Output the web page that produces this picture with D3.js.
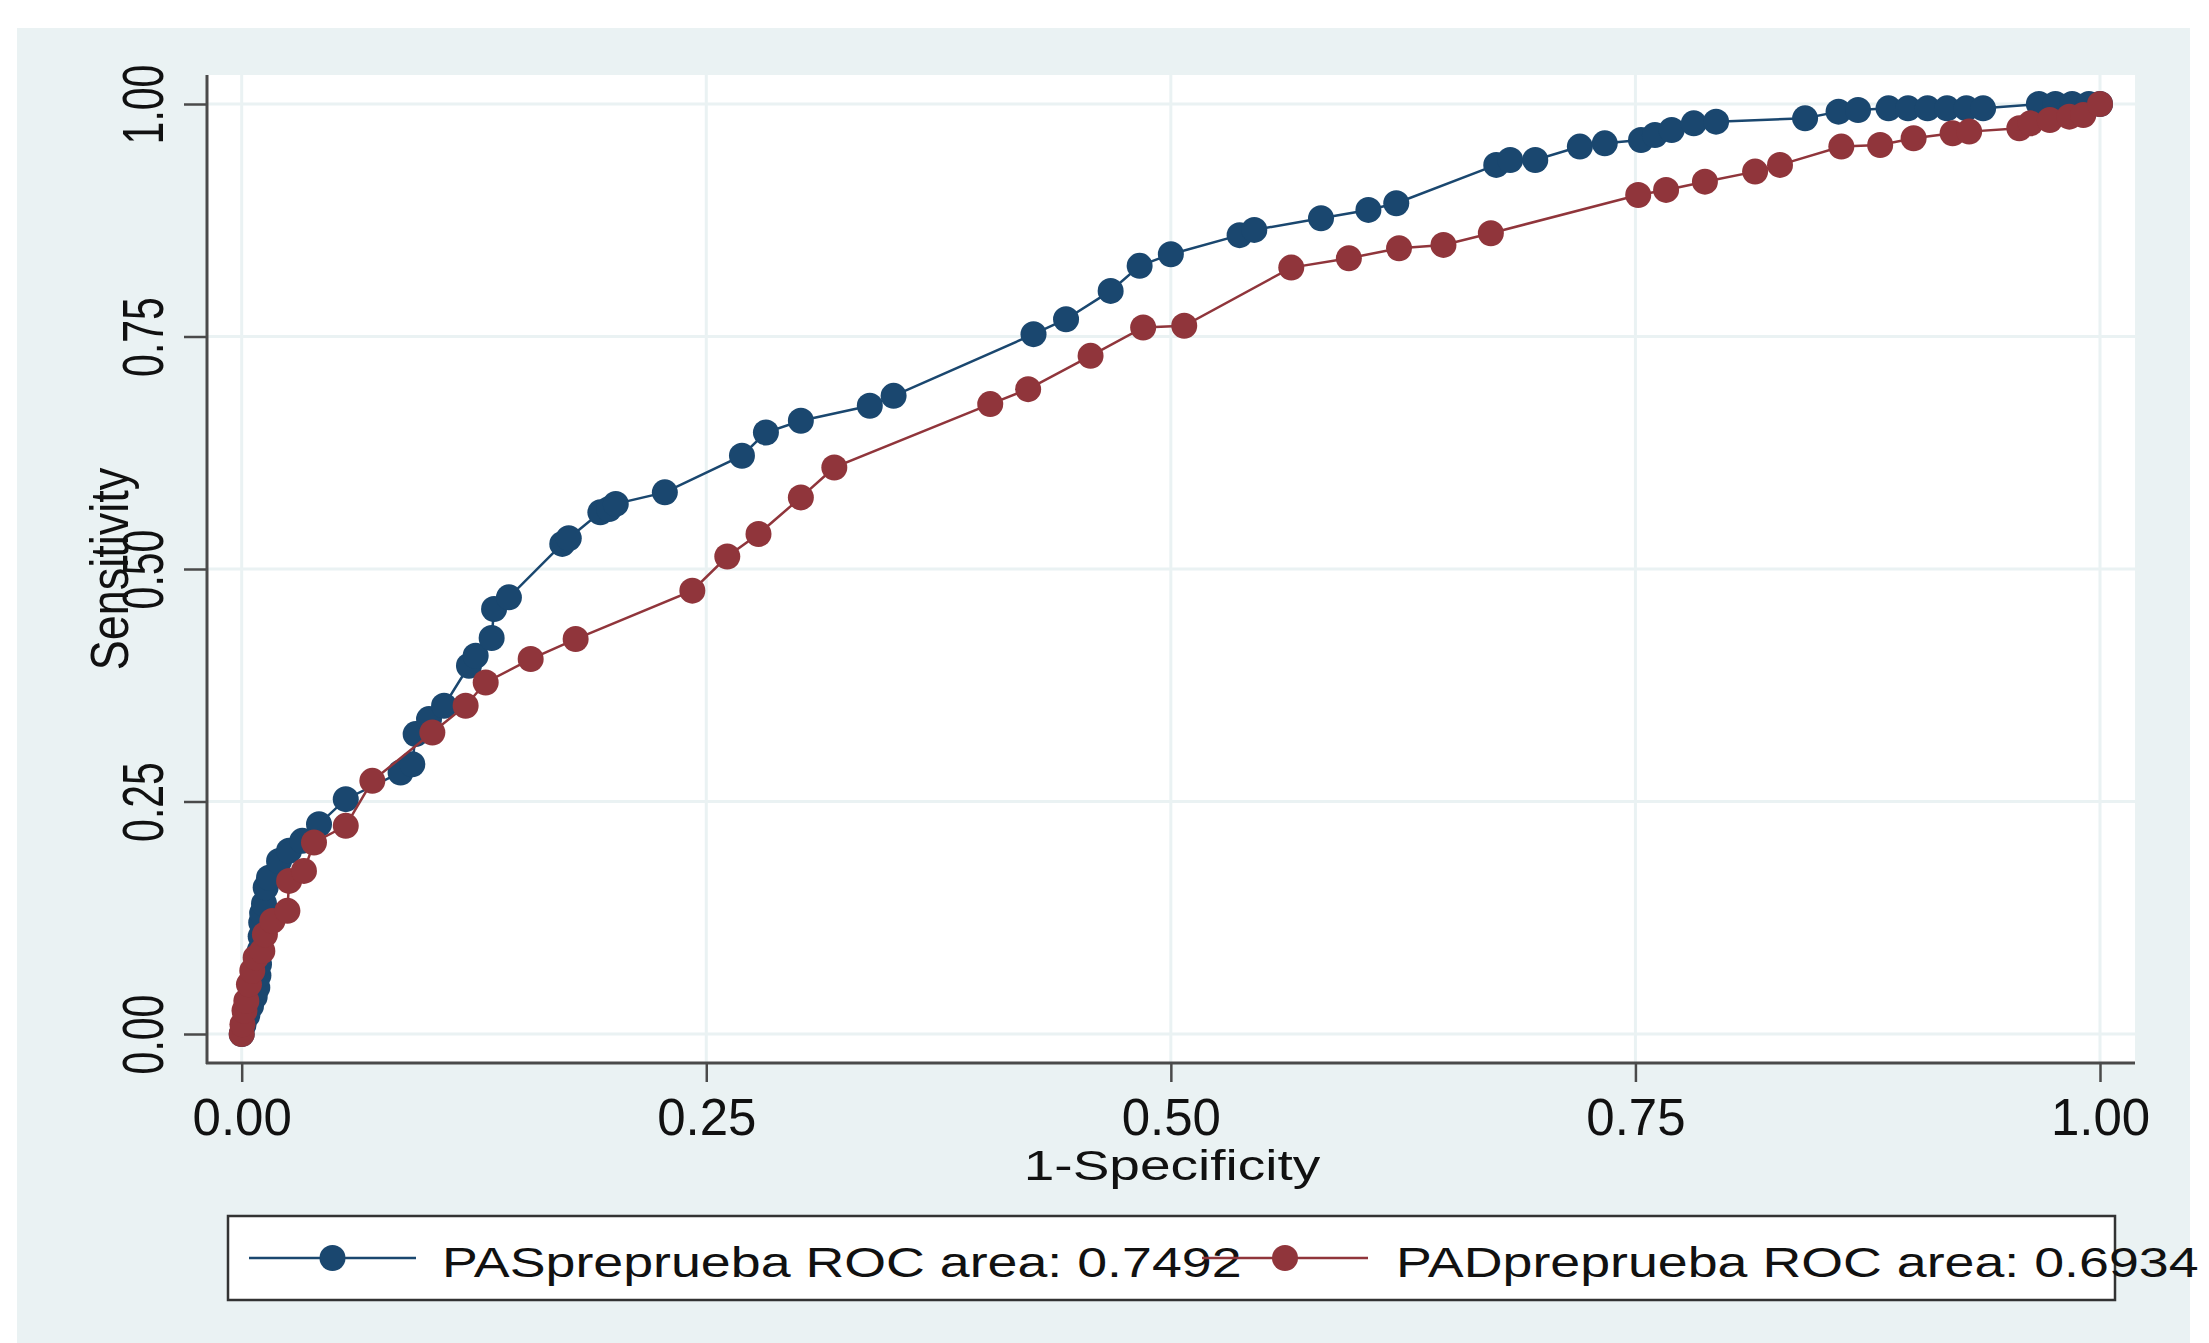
<!DOCTYPE html>
<html>
<head>
<meta charset="utf-8">
<script src="https://cdn.jsdelivr.net/npm/d3@7"></script>
<style>
  html, body { margin: 0; padding: 0; background: #ffffff; }
  svg { display: block; }
  text { font-family: "Liberation Sans", Arial, sans-serif; fill: #111; }
</style>
</head>
<body>
<div id="chart"></div>
<script>
// ---------- data ----------
const tickValues = [0, 0.25, 0.5, 0.75, 1];
const xTitle = "1-Specificity";
const yTitle = "Sensitivity";
const seriesNames = ["PASpreprueba ROC area: 0.7492", "PADpreprueba ROC area: 0.6934"];
const seriesColors = ["#1a476f", "#90353b"];

// PAS (blue): [1-specificity, sensitivity]
const pasX = [0, 0.001, 0.003, 0.005, 0.007, 0.0084, 0.009, 0.0093, 0.0098, 0.0102, 0.0105, 0.011, 0.012, 0.0129, 0.0147,
  0.0201, 0.0255, 0.0326, 0.0416, 0.056, 0.0855, 0.0918, 0.0936, 0.1008, 0.1089, 0.1223, 0.1259, 0.1345, 0.1358, 0.1438,
  0.1725, 0.176, 0.193, 0.1977, 0.2013, 0.2277, 0.2692, 0.2821, 0.3009, 0.338, 0.3508, 0.4261, 0.4436, 0.4676, 0.4832,
  0.5, 0.537, 0.5449, 0.5808, 0.6063, 0.6213, 0.6751, 0.6826, 0.6961, 0.7201, 0.7335, 0.753, 0.7605, 0.7695, 0.7814,
  0.7934, 0.8413, 0.8593, 0.8698, 0.8862, 0.8967, 0.9072, 0.9177, 0.9281, 0.9371, 0.9671, 0.976, 0.985, 0.994, 1];
const pasY = [0, 0.01, 0.02, 0.03, 0.04, 0.05, 0.063, 0.075, 0.09, 0.105, 0.12, 0.13, 0.14, 0.1575, 0.168,
  0.186, 0.197, 0.2077, 0.2256, 0.2525, 0.2812, 0.29, 0.3225, 0.3386, 0.353, 0.396, 0.4067, 0.4258, 0.457, 0.4695,
  0.527, 0.533, 0.561, 0.5645, 0.57, 0.5824, 0.6218, 0.6468, 0.6594, 0.6755, 0.6862, 0.7525, 0.7686, 0.799, 0.826,
  0.8385, 0.859, 0.8646, 0.8771, 0.8861, 0.8933, 0.9345, 0.9398, 0.9398, 0.9542, 0.9577, 0.9613, 0.9667, 0.972, 0.9792,
  0.981, 0.9846, 0.9918, 0.9936, 0.9953, 0.9953, 0.9953, 0.9953, 0.9953, 0.9953, 1, 1, 1, 1, 1];

// PAD (red)
const padX = [0, 0.0004, 0.0015, 0.0025, 0.0039, 0.0057, 0.0075, 0.0111, 0.0125, 0.0165, 0.0246, 0.0255, 0.0335, 0.0389,
  0.056, 0.0703, 0.1026, 0.1205, 0.1313, 0.1555, 0.1797, 0.2425, 0.2613, 0.2781, 0.3009, 0.3189, 0.4028, 0.4232, 0.4568,
  0.4851, 0.5072, 0.5648, 0.5958, 0.6228, 0.6467, 0.6722, 0.7515, 0.7665, 0.7874, 0.8144, 0.8278, 0.8608, 0.8817, 0.8997,
  0.9207, 0.9296, 0.9566, 0.9626, 0.973, 0.9835, 0.991, 1];
const padY = [0, 0.0104, 0.025, 0.0355, 0.0534, 0.068, 0.0821, 0.0893, 0.107, 0.1216, 0.1324, 0.1646, 0.1754, 0.2059,
  0.2238, 0.2722, 0.3242, 0.353, 0.378, 0.4032, 0.4247, 0.4767, 0.5134, 0.5376, 0.577, 0.6092, 0.6773, 0.6934, 0.7292,
  0.7597, 0.7615, 0.8241, 0.8342, 0.8449, 0.8485, 0.861, 0.9022, 0.9076, 0.9165, 0.9273, 0.9345, 0.9542, 0.9559, 0.9631,
  0.9685, 0.9703, 0.9739, 0.9792, 0.9828, 0.9864, 0.9882, 1];

// ---------- layout ----------
const W = 2209, H = 1343;
const bg = "#eaf2f3";
const plot = { left: 207, right: 2135, top: 75, bottom: 1063 };

const svg = d3.select("#chart").append("svg").attr("width", W).attr("height", H);

// outer graph background
svg.append("rect").attr("x", 17).attr("y", 28).attr("width", 2190 - 17).attr("height", H - 28).attr("fill", bg);
// plot region
svg.append("rect").attr("x", plot.left).attr("y", plot.top)
  .attr("width", plot.right - plot.left).attr("height", plot.bottom - plot.top).attr("fill", "#ffffff");

const x = d3.scaleLinear().domain([0, 1]).range([241.7, 2100]);
const y = d3.scaleLinear().domain([0, 1]).range([1034, 104]);

// gridlines
const grid = svg.append("g");
grid.selectAll("line.gx").data(tickValues).join("line")
  .attr("x1", d => x(d)).attr("x2", d => x(d)).attr("y1", plot.top).attr("y2", plot.bottom)
  .attr("stroke", bg).attr("stroke-width", 3);
grid.selectAll("line.gy").data(tickValues).join("line")
  .attr("y1", d => y(d)).attr("y2", d => y(d)).attr("x1", plot.left).attr("x2", plot.right)
  .attr("stroke", bg).attr("stroke-width", 3);

// axes
const axisColor = "#4a4a4a";
const yAxis = svg.append("g").attr("transform", `translate(${plot.left},0)`)
  .call(d3.axisLeft(y).tickValues(tickValues).tickFormat(d3.format(".2f")).tickSize(23));
yAxis.select(".domain").remove();
yAxis.selectAll(".tick line").attr("stroke", axisColor).attr("stroke-width", 2.5);
yAxis.selectAll(".tick text")
  .attr("x", null).attr("dy", null)
  .attr("transform", `translate(${163 - plot.left},0) rotate(-90) scale(0.72,1)`)
  .attr("text-anchor", "middle")
  .style("font-size", "57px").style("font-family", "'Liberation Sans', Arial, sans-serif").attr("fill", "#111");

const xAxis = svg.append("g").attr("transform", `translate(0,${plot.bottom})`)
  .call(d3.axisBottom(x).tickValues(tickValues).tickFormat(d3.format(".2f")).tickSize(19));
xAxis.select(".domain").remove();
xAxis.selectAll(".tick line").attr("stroke", axisColor).attr("stroke-width", 2.5);
xAxis.selectAll(".tick text")
  .attr("y", 1135 - plot.bottom).attr("dy", null)
  .attr("text-anchor", "middle")
  .style("font-size", "51px").style("font-family", "'Liberation Sans', Arial, sans-serif").attr("fill", "#111");

// axis lines
svg.append("line").attr("x1", plot.left).attr("x2", plot.left).attr("y1", plot.top).attr("y2", plot.bottom + 1)
  .attr("stroke", axisColor).attr("stroke-width", 3);
svg.append("line").attr("x1", plot.left - 1).attr("x2", plot.right).attr("y1", plot.bottom).attr("y2", plot.bottom)
  .attr("stroke", axisColor).attr("stroke-width", 3);

// axis titles
svg.append("text").text(xTitle)
  .attr("transform", "translate(1172,1180) scale(1.31,1)")
  .attr("text-anchor", "middle").style("font-size", "42px");
svg.append("text").text(yTitle)
  .attr("transform", "translate(128,569) rotate(-90) scale(0.85,1)")
  .attr("text-anchor", "middle").style("font-size", "53px");

// series
const series = [
  { xs: pasX, ys: pasY, color: seriesColors[0] },
  { xs: padX, ys: padY, color: seriesColors[1] }
];
const line = d3.line().x(d => x(d[0])).y(d => y(d[1]));
const R = 13;
series.forEach(s => {
  const pts = s.xs.map((v, i) => [v, s.ys[i]]);
  const g = svg.append("g");
  g.append("path").datum(pts).attr("d", line).attr("fill", "none")
    .attr("stroke", s.color).attr("stroke-width", 2.5);
  g.selectAll("circle").data(pts).join("circle")
    .attr("cx", d => x(d[0])).attr("cy", d => y(d[1])).attr("r", R).attr("fill", s.color);
});

// legend
const leg = svg.append("g");
leg.append("rect").attr("x", 228).attr("y", 1216).attr("width", 2115 - 228).attr("height", 1300 - 1216)
  .attr("fill", "#ffffff").attr("stroke", "#333").attr("stroke-width", 2.5);
const legItems = [
  { x1: 249, x2: 416, tx: 442 },
  { x1: 1202, x2: 1368, tx: 1396 }
];
legItems.forEach((it, i) => {
  const cy = 1258;
  leg.append("line").attr("x1", it.x1).attr("x2", it.x2).attr("y1", cy).attr("y2", cy)
    .attr("stroke", seriesColors[i]).attr("stroke-width", 2.5);
  leg.append("circle").attr("cx", (it.x1 + it.x2) / 2).attr("cy", cy).attr("r", R).attr("fill", seriesColors[i]);
  leg.append("text").text(seriesNames[i])
    .attr("transform", `translate(${it.tx},1277) scale(1.28,1)`)
    .style("font-size", "42px");
});
</script>
</body>
</html>
